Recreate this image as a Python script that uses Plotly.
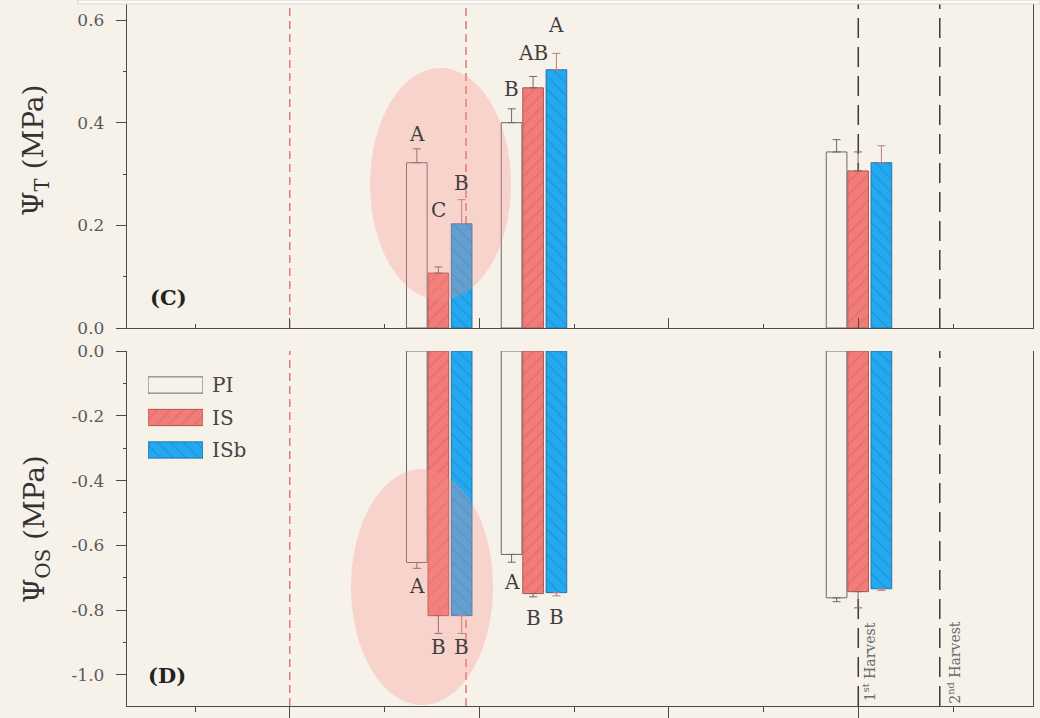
import plotly.graph_objects as go

# Measurement campaigns on the time axis (axis units; major ticks every 2 units)
campaign_x = [2.57, 3.57, 7.0]
treatments = ["PI", "IS", "ISb"]

# Turgor potential (MPa), means and standard errors
turgor_PI = [0.322, 0.400, 0.343]
turgor_IS = [0.107, 0.468, 0.306]
turgor_ISb = [0.203, 0.503, 0.322]
turgor_err_PI = [0.027, 0.027, 0.024]
turgor_err_IS = [0.012, 0.022, 0.037]
turgor_err_ISb = [0.047, 0.032, 0.033]

# Osmotic potential (MPa), means and standard errors
osm_PI = [-0.653, -0.628, -0.762]
osm_IS = [-0.817, -0.749, -0.743]
osm_ISb = [-0.817, -0.746, -0.734]
osm_err_PI = [0.018, 0.024, 0.012]
osm_err_IS = [0.055, 0.010, 0.050]
osm_err_ISb = [0.055, 0.010, 0.005]

# Significance letters per treatment and campaign
turgor_letters_PI = ["A", "B", ""]
turgor_letters_IS = ["C", "AB", ""]
turgor_letters_ISb = ["B", "A", ""]
osm_letters_PI = ["A", "A", ""]
osm_letters_IS = ["B", "B", ""]
osm_letters_ISb = ["B", "B", ""]

# Axis ticks
y_top_ticks = [0.0, 0.2, 0.4, 0.6]
y_top_labels = ["0.0", "0.2", "0.4", "0.6"]
y_bot_ticks = [0.0, -0.2, -0.4, -0.6, -0.8, -1.0]
y_bot_labels = ["0.0", "-0.2", "-0.4", "-0.6", "-0.8", "-1.0"]
x_major = [1, 3, 5, 7]
x_minor = [0, 2, 4, 6, 8]

# Event markers on the time axis
window_lines = [1.0, 2.86]
harvest_lines = [7.0, 7.86]
harvest_labels = ["1<sup>st</sup> Harvest", "2<sup>nd</sup> Harvest"]

# ---------------------------------------------------------------- styling
BG = "#f6f2ea"
AX = "#4a4a4a"
FONT = "DejaVu Serif"
X_RANGE = [-0.718, 8.844]
TOP_RANGE = [0, 0.639]
BOT_RANGE = [-1.096, 0]
X_DOM = [127 / 1040, 1033 / 1040]
TOP_DOM = [1 - 328 / 718, 1.0]
BOT_DOM = [1 - 706 / 718, 1 - 351 / 718]

BAR_W = 0.218
style = {
    "PI": dict(offset=-0.338, fill="rgba(0,0,0,0)", line="#6a6a6a",
               pattern=None, err="#6a6a6a"),
    "IS": dict(offset=-0.111, fill="#f27c77", line="#a85a58",
               pattern=dict(shape="/", fgcolor="#c75855", size=9,
                            solidity=0.12, fillmode="overlay"),
               err="#806262"),
    "ISb": dict(offset=0.135, fill="#22a9f0", line="#2474a8",
                pattern=dict(shape="\\", fgcolor="#1f74ad", size=9,
                             solidity=0.12, fillmode="overlay"),
                err="#b77a86"),
}

turgor = {"PI": (turgor_PI, turgor_err_PI, turgor_letters_PI),
          "IS": (turgor_IS, turgor_err_IS, turgor_letters_IS),
          "ISb": (turgor_ISb, turgor_err_ISb, turgor_letters_ISb)}
osmotic = {"PI": (osm_PI, osm_err_PI, osm_letters_PI),
           "IS": (osm_IS, osm_err_IS, osm_letters_IS),
           "ISb": (osm_ISb, osm_err_ISb, osm_letters_ISb)}

# pixel lift of each letter above / below its error-bar end
turgor_lift = {"PI": [15, 20, 0], "IS": [57, 23, 0], "ISb": [17, 28, 0]}
osm_drop = {"PI": [18, 20, 0], "IS": [14, 21, 0], "ISb": [14, 21, 0]}

LETTER_FONT = dict(family=FONT, size=20, color="#3f3f3f")


def marker_for(name):
    s = style[name]
    m = dict(color=s["fill"], line=dict(color=s["line"], width=1))
    if s["pattern"]:
        m["pattern"] = dict(s["pattern"], bgcolor=s["fill"])
    return m


fig = go.Figure()
annotations = []

for name in treatments:
    s = style[name]
    vals, errs, letters = turgor[name]
    fig.add_trace(go.Bar(
        x=campaign_x, y=vals, xaxis="x", yaxis="y",
        offset=s["offset"], width=BAR_W, marker=marker_for(name),
        error_y=dict(type="data", symmetric=False, array=errs,
                     arrayminus=[0] * len(errs), color=s["err"],
                     thickness=1, width=4),
        showlegend=False, hoverinfo="skip"))
    for i, lab in enumerate(letters):
        if lab:
            annotations.append(dict(
                x=campaign_x[i] + s["offset"] + BAR_W / 2, y=vals[i] + errs[i],
                xref="x", yref="y", text=lab, showarrow=False,
                xanchor="center", yanchor="middle",
                yshift=turgor_lift[name][i], font=LETTER_FONT))

    vals, errs, letters = osmotic[name]
    fig.add_trace(go.Bar(
        x=campaign_x, y=vals, xaxis="x2", yaxis="y2",
        offset=s["offset"], width=BAR_W, marker=marker_for(name),
        error_y=dict(type="data", symmetric=False, array=[0] * len(errs),
                     arrayminus=errs, color=s["err"], thickness=1, width=4),
        showlegend=False, hoverinfo="skip"))
    for i, lab in enumerate(letters):
        if lab:
            annotations.append(dict(
                x=campaign_x[i] + s["offset"] + BAR_W / 2, y=vals[i] - errs[i],
                xref="x2", yref="y2", text=lab, showarrow=False,
                xanchor="center", yanchor="middle",
                yshift=-osm_drop[name][i], font=LETTER_FONT))

    # legend swatch drawn as a bar in a small inset axis
    fig.add_trace(go.Bar(
        x=[1], y=[name], orientation="h", base=0, width=0.5,
        xaxis="x5", yaxis="y5", marker=marker_for(name),
        showlegend=False, hoverinfo="skip"))

shapes = []
# highlight ellipses
shapes.append(dict(type="circle", xref="x", yref="y", x0=1.847, x1=3.335,
                   y0=0.0545, y1=0.5065, fillcolor="rgba(248,140,135,0.30)",
                   line=dict(width=0), layer="above"))
shapes.append(dict(type="circle", xref="x2", yref="y2", x0=1.646, x1=3.145,
                   y0=-1.093, y1=-0.364, fillcolor="rgba(248,140,135,0.30)",
                   line=dict(width=0), layer="above"))
# period boundaries (red) and harvest dates (black)
for xv in window_lines:
    for ax in ("y", "y2"):
        shapes.append(dict(type="line", xref="x" if ax == "y" else "x2",
                           yref=f"{ax} domain", x0=xv, x1=xv, y0=0, y1=1,
                           line=dict(color="#d46a6a", width=1.3, dash="8px,5px"),
                           layer="below"))
for xv in harvest_lines:
    for ax in ("y", "y2"):
        shapes.append(dict(type="line", xref="x" if ax == "y" else "x2",
                           yref=f"{ax} domain", x0=xv, x1=xv, y0=0, y1=1,
                           line=dict(color="#3a3a3a", width=1.5, dash="20px,9px"),
                           layer="below"))
# thin frame strip along the top edge
shapes.append(dict(type="rect", xref="paper", yref="paper", x0=78 / 1040, x1=1,
                   y0=1 - 4 / 718, y1=1, fillcolor="#fbfaf7",
                   line=dict(color="#d9d4cc", width=1)))

for xv, lab, shift in zip(harvest_lines, harvest_labels, [11, 14]):
    annotations.append(dict(x=xv, y=-0.96, xref="x2", yref="y2", text=lab,
                            textangle=-90, showarrow=False, xshift=shift,
                            xanchor="center", yanchor="middle",
                            font=dict(family=FONT, size=14, color="#6a6a6a")))

annotations += [
    dict(x=168 / 1040, y=1 - 298 / 718, xref="paper", yref="paper",
         text="<b>(C)</b>", showarrow=False, xanchor="center", yanchor="middle",
         font=dict(family=FONT, size=21, color="#222")),
    dict(x=167 / 1040, y=1 - 675 / 718, xref="paper", yref="paper",
         text="<b>(D)</b>", showarrow=False, xanchor="center", yanchor="middle",
         font=dict(family=FONT, size=21, color="#222")),
    dict(x=36 / 1040, y=1 - 151 / 718, xref="paper", yref="paper",
         text="Ψ<sub>T</sub> (MPa)", textangle=-90, showarrow=False,
         xanchor="center", yanchor="middle",
         font=dict(family=FONT, size=28, color="#333")),
    dict(x=36 / 1040, y=1 - 529 / 718, xref="paper", yref="paper",
         text="Ψ<sub>OS</sub> (MPa)", textangle=-90, showarrow=False,
         xanchor="center", yanchor="middle",
         font=dict(family=FONT, size=28, color="#333")),
]

tickfont = dict(family=FONT, size=17, color="#5a5a5a")
line_common = dict(showline=True, linecolor=AX, linewidth=1.4, automargin=False,
                   showgrid=False, zeroline=False, tickcolor=AX, tickwidth=1.3)

x_common = dict(domain=X_DOM, range=X_RANGE, tickmode="array",
                tickvals=x_major, showticklabels=False, **line_common)

fig.update_layout(
    width=1040, height=718, autosize=False,
    margin=dict(l=0, r=0, t=0, b=0, pad=0, autoexpand=False),
    paper_bgcolor=BG, plot_bgcolor=BG, barmode="overlay",
    showlegend=False, shapes=shapes, annotations=annotations,
    xaxis=dict(anchor="y", ticks="inside", ticklen=10,
               minor=dict(tickvals=x_minor, ticks="inside", ticklen=4,
                          tickcolor=AX), **x_common),
    yaxis=dict(domain=TOP_DOM, range=TOP_RANGE, anchor="x", mirror=True,
               tickmode="array", tickvals=y_top_ticks, ticktext=y_top_labels,
               ticks="outside", ticklen=10, tickfont=tickfont,
               ticklabelstandoff=8,
               minor=dict(dtick=0.1, tick0=0, ticks="outside", ticklen=3,
                          tickcolor=AX),
               **line_common),
    yaxis3=dict(overlaying="y", anchor="x", range=TOP_RANGE, tickmode="array",
                tickvals=y_top_ticks, ticks="inside", ticklen=13,
                showticklabels=False, tickcolor=AX, tickwidth=1.3,
                showgrid=False, zeroline=False, automargin=False,
                minor=dict(dtick=0.1, tick0=0, ticks="inside", ticklen=6,
                           tickcolor=AX)),
    xaxis2=dict(anchor="y2", ticks="outside", ticklen=14,
                minor=dict(tickvals=x_minor, ticks="outside", ticklen=5,
                           tickcolor=AX), **x_common),
    xaxis3=dict(overlaying="x2", anchor="y2", side="top", ticks="inside",
                ticklen=11,
                minor=dict(tickvals=x_minor, ticks="inside", ticklen=4,
                           tickcolor=AX), **x_common),
    yaxis2=dict(domain=BOT_DOM, range=BOT_RANGE, anchor="x2", mirror=True,
                tickmode="array", tickvals=y_bot_ticks, ticktext=y_bot_labels,
                ticks="outside", ticklen=10, tickfont=tickfont,
                ticklabelstandoff=8,
                minor=dict(dtick=0.1, tick0=0, ticks="outside", ticklen=3,
                           tickcolor=AX),
                **line_common),
    yaxis4=dict(overlaying="y2", anchor="x2", range=BOT_RANGE, tickmode="array",
                tickvals=y_bot_ticks, ticks="inside", ticklen=13,
                showticklabels=False, tickcolor=AX, tickwidth=1.3,
                showgrid=False, zeroline=False, automargin=False,
                minor=dict(dtick=0.1, tick0=0, ticks="inside", ticklen=6,
                           tickcolor=AX)),
    xaxis5=dict(domain=[148 / 1040, 203 / 1040], range=[0, 1], anchor="y5",
                visible=False, fixedrange=True, automargin=False),
    yaxis5=dict(domain=[1 - 466.25 / 718, 1 - 368.75 / 718], anchor="x5",
                type="category", categoryorder="array",
                categoryarray=treatments[::-1], range=[-0.5, 2.5],
                side="right", showline=False, showgrid=False, zeroline=False,
                ticks="", ticklabelstandoff=8, automargin=False,
                tickfont=dict(family=FONT, size=20, color="#444")),
)

fig.write_html("out.html")
